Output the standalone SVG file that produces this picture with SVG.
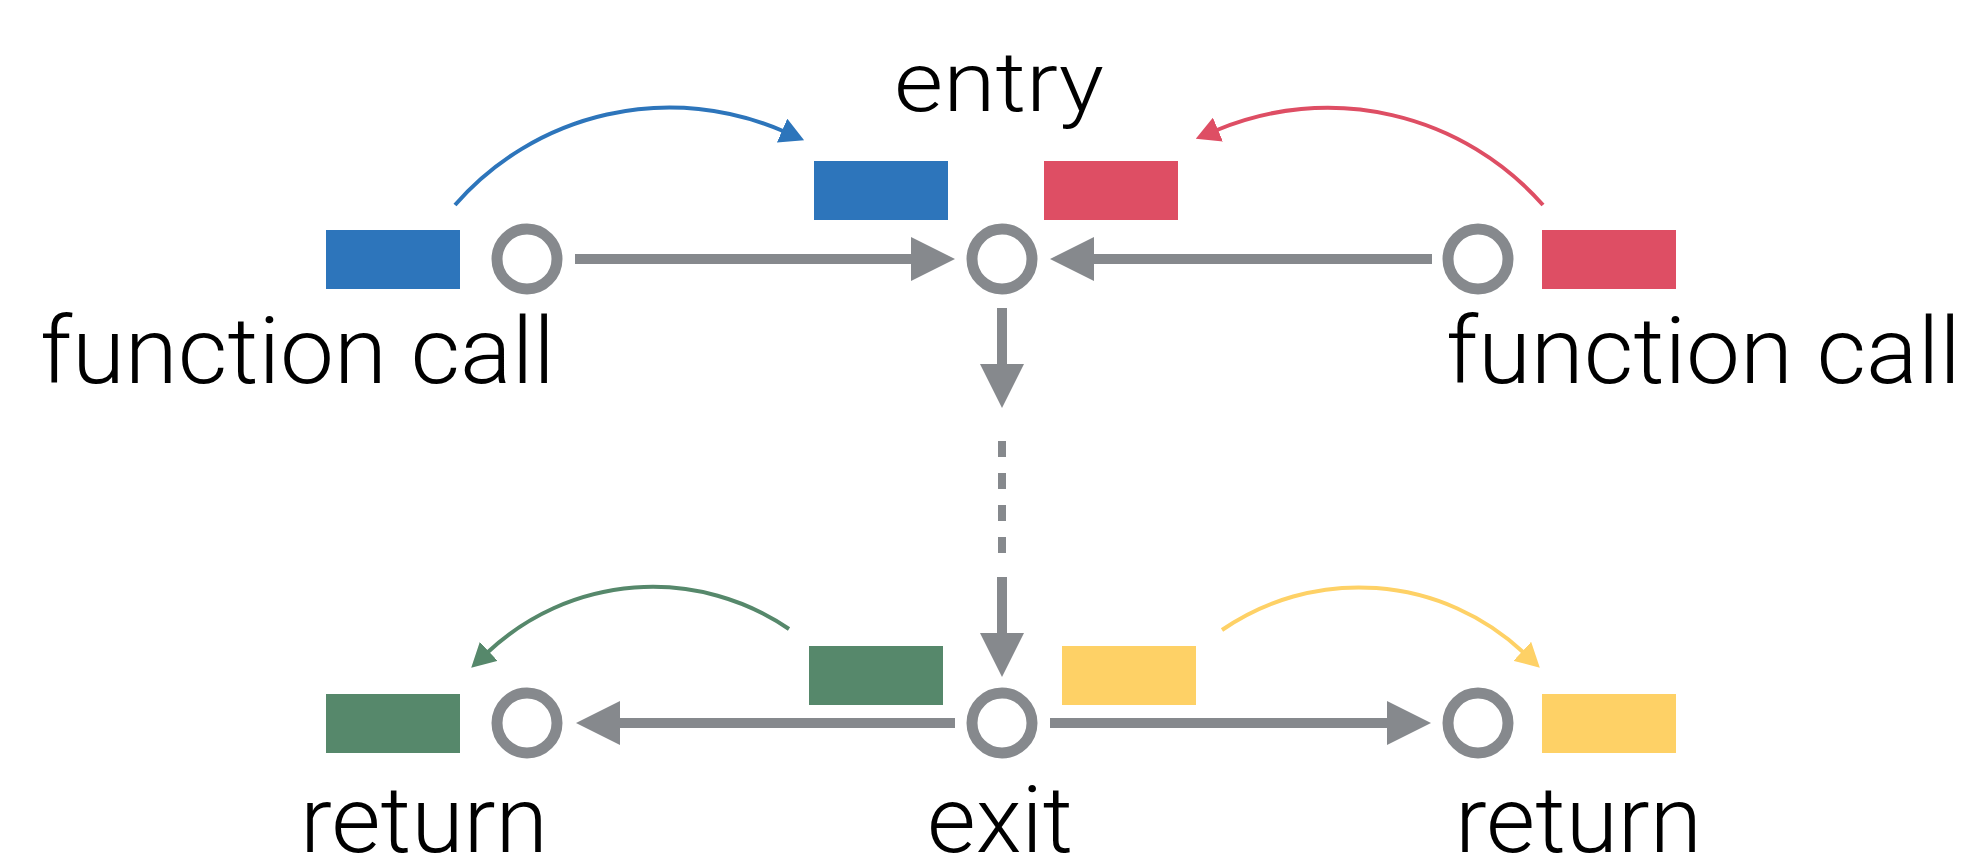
<svg xmlns="http://www.w3.org/2000/svg" width="1978" height="855" viewBox="0 0 1978 855">
<style>
  .lbl { font-family: Roboto, "Liberation Sans", sans-serif; font-weight: 300; fill: #000; }
  .big { font-size: 92px; }
  .mid { font-size: 84px; }
  .pt { fill: #fff; stroke: #86898D; stroke-width: 11; }
  .g { stroke: #86898D; stroke-width: 10; fill: none; }
  .dash { stroke: #86898D; stroke-width: 8; stroke-dasharray: 16 16; fill: none; }
  .arc { fill: none; stroke-width: 4; }
  .blue { fill: #2D75BB; }
  .red { fill: #DE4E64; }
  .green { fill: #56886B; }
  .yellow { fill: #FED166; }
</style>
<defs>
  <marker id="ag" markerUnits="userSpaceOnUse" viewBox="0 0 44 44" markerWidth="44" markerHeight="44" refX="0" refY="22" orient="auto">
    <path d="M0,0 L44,22 L0,44 Z" fill="#86898D"/>
  </marker>
  <marker id="ab" markerUnits="userSpaceOnUse" viewBox="0 0 24 26" markerWidth="24" markerHeight="26" refX="1" refY="13" orient="auto">
    <path d="M0,0 L24,13 L0,26 Z" fill="#2D75BB"/>
  </marker>
  <marker id="ar" markerUnits="userSpaceOnUse" viewBox="0 0 24 26" markerWidth="24" markerHeight="26" refX="1" refY="13" orient="auto">
    <path d="M0,0 L24,13 L0,26 Z" fill="#DE4E64"/>
  </marker>
  <marker id="agr" markerUnits="userSpaceOnUse" viewBox="0 0 24 26" markerWidth="24" markerHeight="26" refX="1" refY="13" orient="auto">
    <path d="M0,0 L24,13 L0,26 Z" fill="#56886B"/>
  </marker>
  <marker id="ay" markerUnits="userSpaceOnUse" viewBox="0 0 24 26" markerWidth="24" markerHeight="26" refX="1" refY="13" orient="auto">
    <path d="M0,0 L24,13 L0,26 Z" fill="#FED166"/>
  </marker>
</defs>
<rect width="1978" height="855" fill="#fff"/>

<g id="connectors">
  <line class="g" x1="575" y1="259" x2="911" y2="259" marker-end="url(#ag)"/>
  <line class="g" x1="1432" y1="259" x2="1094" y2="259" marker-end="url(#ag)"/>
  <line class="g" x1="1002" y1="308" x2="1002" y2="364" marker-end="url(#ag)"/>
  <line class="dash" x1="1002" y1="441" x2="1002" y2="553"/>
  <line class="g" x1="1002" y1="577" x2="1002" y2="633" marker-end="url(#ag)"/>
  <line class="g" x1="955" y1="723" x2="620" y2="723" marker-end="url(#ag)"/>
  <line class="g" x1="1050" y1="723" x2="1387" y2="723" marker-end="url(#ag)"/>
  <path class="arc" stroke="#2D75BB" d="M455,205 A285,285 0 0 1 783,131" marker-end="url(#ab)"/>
  <path class="arc" stroke="#DE4E64" d="M1543,205 A287,287 0 0 0 1217,130" marker-end="url(#ar)"/>
  <path class="arc" stroke="#56886B" d="M789,629 A241,241 0 0 0 488,652" marker-end="url(#agr)"/>
  <path class="arc" stroke="#FED166" d="M1222,630 A241,241 0 0 1 1523,652" marker-end="url(#ay)"/>
</g>

<g id="call-left">
  <rect class="blue" x="326" y="230" width="134" height="59"/>
  <circle class="pt" cx="527" cy="259" r="30"/>
  <text class="lbl big" x="40" y="383" textLength="515" lengthAdjust="spacingAndGlyphs">function call</text>
</g>
<g id="entry">
  <rect class="blue" x="814" y="161" width="134" height="59"/>
  <rect class="red" x="1044" y="161" width="134" height="59"/>
  <circle class="pt" cx="1002" cy="259" r="30"/>
  <text class="lbl mid" x="894" y="111" textLength="210" lengthAdjust="spacingAndGlyphs">entry</text>
</g>
<g id="call-right">
  <rect class="red" x="1542" y="230" width="134" height="59"/>
  <circle class="pt" cx="1478" cy="259" r="30"/>
  <text class="lbl big" x="1446" y="383" textLength="515" lengthAdjust="spacingAndGlyphs">function call</text>
</g>
<g id="return-left">
  <rect class="green" x="326" y="694" width="134" height="59"/>
  <circle class="pt" cx="527" cy="723" r="30"/>
  <text class="lbl big" x="300" y="852" textLength="248" lengthAdjust="spacingAndGlyphs">return</text>
</g>
<g id="exit">
  <rect class="green" x="809" y="646" width="134" height="59"/>
  <rect class="yellow" x="1062" y="646" width="134" height="59"/>
  <circle class="pt" cx="1002" cy="723" r="30"/>
  <text class="lbl big" x="927" y="852" textLength="146" lengthAdjust="spacingAndGlyphs">exit</text>
</g>
<g id="return-right">
  <rect class="yellow" x="1542" y="694" width="134" height="59"/>
  <circle class="pt" cx="1478" cy="723" r="30"/>
  <text class="lbl big" x="1455" y="852" textLength="247" lengthAdjust="spacingAndGlyphs">return</text>
</g>
</svg>
